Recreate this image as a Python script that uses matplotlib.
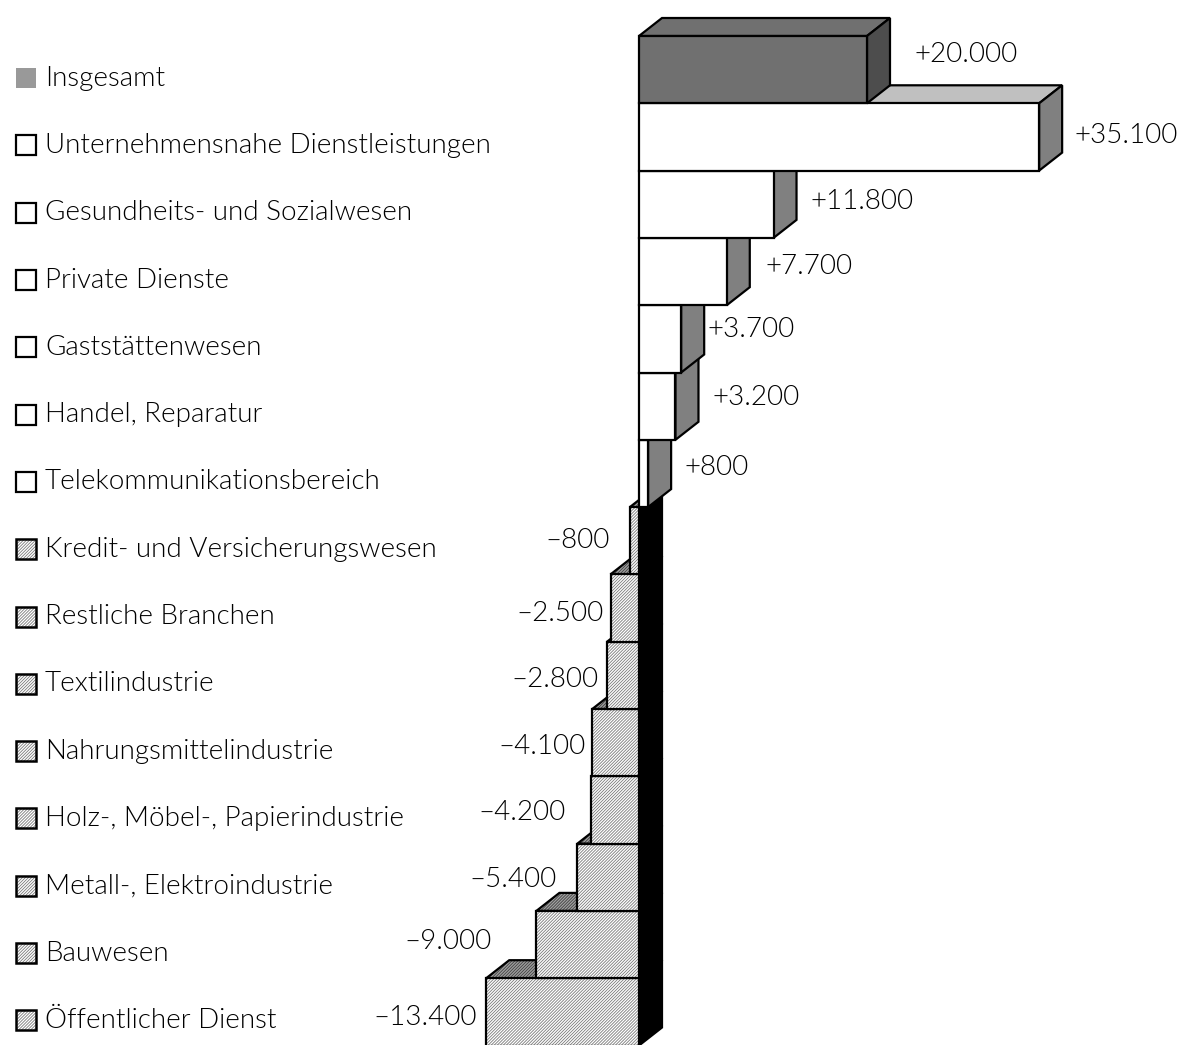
import matplotlib.pyplot as plt
from matplotlib.patches import Polygon

# ================= DATA =================
categories = [
    "Insgesamt",
    "Unternehmensnahe Dienstleistungen",
    "Gesundheits- und Sozialwesen",
    "Private Dienste",
    "Gaststättenwesen",
    "Handel, Reparatur",
    "Telekommunikationsbereich",
    "Kredit- und Versicherungswesen",
    "Restliche Branchen",
    "Textilindustrie",
    "Nahrungsmittelindustrie",
    "Holz-, Möbel-, Papierindustrie",
    "Metall-, Elektroindustrie",
    "Bauwesen",
    "Öffentlicher Dienst",
]
# change in jobs, thousands
values = [20.0, 35.1, 11.8, 7.7, 3.7, 3.2, 0.8,
          -0.8, -2.5, -2.8, -4.1, -4.2, -5.4, -9.0, -13.4]
# ========================================

FONT = ["Lato", "DejaVu Sans"]
FS = 20
FW = 300
EDGE = "black"
LW = 1.6
HATCH = "/" * 11

# pixel geometry of the original
PX_X = 1 / 11.4      # thousands per pixel
PX_Y = 1 / 67.3      # rows per pixel
DX = 23 * PX_X       # 3D depth
DY = 18 * PX_Y

# value label nudges (pixels): gap from bar, vertical shift (+ = up)
LABEL_GAP = [25, 12, 14, 16, 3, 14, 13, 20, 7, 9, 7, 25, 21, 45, 9]
LABEL_UP = [15, 1, 3, 5, 9, 9, 6, 0, -5, -4, -4, -3, -2, 3, -6]


def fmt(v):
    s = f"{abs(v) * 1000:,.0f}".replace(",", ".")
    return ("+" if v > 0 else "\u2013") + s


def hatched(ax, pts, face, hatch_col, lw=LW):
    ax.add_patch(Polygon(pts, closed=True, facecolor=face, edgecolor=hatch_col,
                         linewidth=0, hatch=HATCH))
    ax.add_patch(Polygon(pts, closed=True, fill=False, edgecolor=EDGE,
                         linewidth=lw, joinstyle="miter"))


def solid(ax, pts, face):
    ax.add_patch(Polygon(pts, closed=True, facecolor=face, edgecolor=EDGE,
                         linewidth=LW, joinstyle="miter"))


plt.rcParams["hatch.linewidth"] = 0.6

fig = plt.figure(figsize=(11.82, 10.45), dpi=100)
ax = fig.add_axes([0, 0, 1, 1])
ax.set_xlim(-639 * PX_X, (1182 - 639) * PX_X)
ax.set_ylim(15 - 0.5 * PX_Y, -36 * PX_Y)
ax.axis("off")

n = len(values)
# draw from bottom to top so upper bars overlap lower ones
for i in range(n - 1, -1, -1):
    v = values[i]
    x0, x1 = min(0, v), max(0, v)
    y0, y1 = i, i + 1
    top = [(x0, y0), (x1, y0), (x1 + DX, y0 - DY), (x0 + DX, y0 - DY)]
    side = [(x1, y0), (x1, y1), (x1 + DX, y1 - DY), (x1 + DX, y0 - DY)]
    front = [(x0, y0), (x1, y0), (x1, y1), (x0, y1)]
    if i == 0:
        solid(ax, top, "#707070")
        solid(ax, side, "#4d4d4d")
        solid(ax, front, "#707070")
    elif v > 0:
        solid(ax, top, "#c0c0c0")
        solid(ax, side, "#808080")
        solid(ax, front, "white")
    else:
        hatched(ax, top, "#a0a0a0", "#404040")
        solid(ax, side, "black")
        hatched(ax, front, "white", "#7a7a7a")

# value labels
for i, v in enumerate(values):
    yc = i + 0.5
    if v > 0:
        ax.annotate(fmt(v), xy=(v + DX, yc), xytext=(LABEL_GAP[i], LABEL_UP[i]),
                    textcoords="offset pixels", ha="left", va="center",
                    fontsize=FS, family=FONT, fontweight=FW)
    else:
        ax.annotate(fmt(v), xy=(v, yc), xytext=(-LABEL_GAP[i], LABEL_UP[i]),
                    textcoords="offset pixels", ha="right", va="center",
                    fontsize=FS, family=FONT, fontweight=FW)

# legend-like category list on the left
x_sq = -639 * PX_X + 16 * PX_X
sq_w, sq_h = 20 * PX_X, 20 * PX_Y
for i, cat in enumerate(categories):
    yc = i + 0.5 + 8.5 * PX_Y
    pts = [(x_sq, yc - sq_h / 2), (x_sq + sq_w, yc - sq_h / 2),
           (x_sq + sq_w, yc + sq_h / 2), (x_sq, yc + sq_h / 2)]
    if i == 0:
        ax.add_patch(Polygon(pts, closed=True, facecolor="#999999", edgecolor="none"))
    elif values[i] > 0:
        ax.add_patch(Polygon(pts, closed=True, facecolor="white", edgecolor=EDGE, linewidth=1.6))
    else:
        hatched(ax, pts, "white", "#7a7a7a", lw=1.8)
    ax.text(-639 * PX_X + 45 * PX_X, yc, cat, ha="left", va="center",
            fontsize=FS, family=FONT, fontweight=FW)

fig.savefig("out.png", dpi=100, facecolor="white")
